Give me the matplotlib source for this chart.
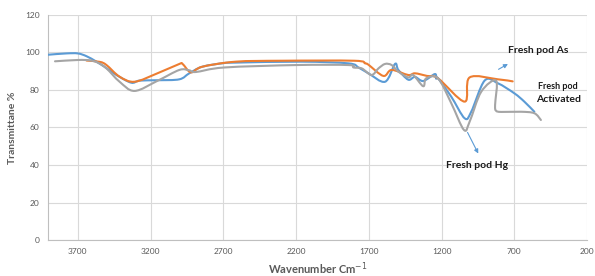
import numpy as np
import matplotlib
matplotlib.use("Agg")
import matplotlib.pyplot as plt
from matplotlib.path import Path
from matplotlib.patches import PathPatch

# FTIR spectra (wavenumber, transmittance %)
blue_wn = [3905, 3780, 3700, 3640, 3572, 3500, 3435, 3333, 3276, 3150, 3002, 2934,
           2845, 2700, 2615, 2160, 1840, 1771, 1703, 1588, 1520, 1497, 1429, 1383,
           1326, 1246, 1237, 1224, 1133, 1041, 996, 904, 813, 699, 631, 562]
blue_t = [98.8, 99.5, 99.5, 98.0, 95.1, 91.5, 88.0, 83.9, 85.0, 85.2, 85.7, 88.9,
          92.4, 94.3, 94.6, 95.1, 94.2, 92.0, 88.9, 84.4, 93.9, 90.7, 85.5, 87.0,
          84.8, 88.5, 86.0, 86.2, 76.4, 64.9, 68.4, 85.0, 83.6, 78.2, 73.8, 68.4]

orange_wn = [3640, 3549, 3503, 3413, 3310, 3150, 3002, 2980, 2922, 2845, 2615, 2300,
             1800, 1725, 1703, 1600, 1543, 1429, 1383, 1300, 1224, 1041, 1007, 813, 711]
orange_t = [95.7, 95.0, 93.3, 87.1, 84.4, 89.0, 93.9, 93.9, 89.4, 92.4, 95.1, 95.6,
            95.6, 94.2, 93.5, 87.5, 90.7, 88.0, 88.9, 87.5, 86.2, 73.8, 86.7, 85.7, 84.6]

gray_wn = [3857, 3700, 3617, 3560, 3503, 3413, 3310, 3150, 3002, 2935, 2888, 2694,
           2200, 1840, 1805, 1748, 1681, 1634, 1588, 1543, 1497, 1429, 1395, 1326,
           1306, 1224, 1133, 1046, 1007, 927, 825, 832, 826, 790, 654, 562, 517]
gray_t = [95.3, 96.0, 95.8, 94.5, 91.5, 84.4, 79.5, 85.0, 90.7, 90.5, 89.6, 92.0,
          93.3, 93.3, 92.0, 91.5, 88.0, 91.5, 93.9, 93.3, 89.8, 86.7, 88.0, 82.0,
          86.2, 86.2, 72.9, 58.7, 63.1, 79.1, 85.0, 72.0, 69.0, 68.3, 68.4, 67.6, 64.0]

x_ticks = [3700, 3200, 2700, 2200, 1700, 1200, 700, 200]
y_ticks = [0, 20, 40, 60, 80, 100, 120]

plt.rcParams['font.family'] = ['Lato', 'DejaVu Sans']


def smooth_path(xs, ys):
    # Excel style smoothed line: Catmull-Rom segments as cubic Bezier curves
    pts = np.column_stack([xs, ys]).astype(float)
    n = len(pts)
    verts = [pts[0]]
    codes = [Path.MOVETO]
    for i in range(n - 1):
        p0 = pts[max(i - 1, 0)]
        p1 = pts[i]
        p2 = pts[i + 1]
        p3 = pts[min(i + 2, n - 1)]
        c1 = p1 + (p2 - p0) / 6.0
        c2 = p2 - (p3 - p1) / 6.0
        verts += [c1, c2, p2]
        codes += [Path.CURVE4] * 3
    return Path(verts, codes)


fig = plt.figure(figsize=(5.95, 2.76), dpi=100)
ax = fig.add_axes([0.0807, 0.1304, 0.9059, 0.8153])

for xs, ys, col in [(blue_wn, blue_t, '#5B9BD5'),
                    (orange_wn, orange_t, '#ED7D31'),
                    (gray_wn, gray_t, '#A5A5A5')]:
    ax.add_patch(PathPatch(smooth_path(xs, ys), facecolor='none', edgecolor=col,
                           lw=1.5, capstyle='round', joinstyle='round', zorder=3))

ax.set_xlim(3905, 200)
ax.set_ylim(0, 120)
ax.set_xticks(x_ticks)
ax.set_yticks(y_ticks)
ax.grid(True, color='#D9D9D9', lw=0.8)
ax.set_axisbelow(True)
for s in ['top', 'right']:
    ax.spines[s].set_visible(False)
for s in ['left', 'bottom']:
    ax.spines[s].set_color('#BFBFBF')
    ax.spines[s].set_linewidth(0.8)
ax.tick_params(length=0, labelsize=6, labelcolor='#595959', pad=6)

ax.set_xlabel('Wavenumber Cm$^{-1}$', fontsize=8, fontweight='bold', color='#595959', labelpad=4)
ax.set_ylabel('Transmittane %', fontsize=7.5, fontweight='bold', color='#595959', labelpad=6)

txt = dict(fontweight='bold', color='#1a1a1a', ha='center', va='center')
ax.text(533, 100.8, 'Fresh pod As', fontsize=7.5, **txt)
ax.text(403, 81.8, 'Fresh pod', fontsize=6.5, **txt)
ax.text(396, 74.7, 'Activated', fontsize=7.5, **txt)
ax.text(957, 39.5, 'Fresh pod Hg', fontsize=7.5, **txt)

arr = dict(arrowstyle='-|>', color='#5B9BD5', lw=0.8, mutation_scale=6)
ax.annotate('', xy=(727, 94.6), xytext=(825, 90.3), arrowprops=arr)
ax.annotate('', xy=(939, 44.8), xytext=(1030, 58.7), arrowprops=arr)

fig.savefig('out.png', dpi=100)
